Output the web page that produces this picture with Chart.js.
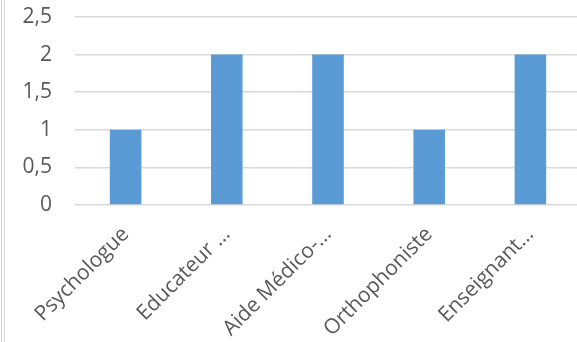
<!DOCTYPE html>
<html>
<head>
<meta charset="utf-8">
<script src="https://cdn.jsdelivr.net/npm/chart.js@4"></script>
<style>
  html, body { margin: 0; padding: 0; background: #fff; overflow: hidden; }
  body { width: 577px; height: 342px; position: relative; }
  .edge { position: absolute; top: 0; bottom: 0; width: 1px; background: #d6d6d6; }
  #wrap { position: absolute; left: 0; top: 0; width: 581px; height: 342px; }
</style>
</head>
<body>
<div class="edge" style="left:1px"></div>
<div class="edge" style="left:4px"></div>
<div id="wrap"><canvas id="chart" width="581" height="342"></canvas></div>
<script>
// Professions and head count for each
const categories = ['Psychologue', 'Educateur …', 'Aide Médico-…', 'Orthophoniste', 'Enseignant…'];
const counts = [1, 2, 2, 1, 2];
const yTicks = [0, 0.5, 1, 1.5, 2, 2.5];

const BAR_COLOR = '#5B9BD5';
const GRID_COLOR = '#d9d9d9';
const TEXT_COLOR = '#595959';
const FONT = { family: '"Open Sans"', size: 21 };

const ctx = document.getElementById('chart').getContext('2d');
new Chart(ctx, {
    type: 'bar',
    data: {
        labels: categories,
        datasets: [{
            data: counts,
            backgroundColor: BAR_COLOR,
            borderWidth: 0,
            categoryPercentage: 1,
            barPercentage: 0.312,
        }],
    },
    options: {
        responsive: false,
        animation: false,
        layout: { padding: { top: 17, left: 0, right: 0, bottom: 0 } },
        plugins: { legend: { display: false }, tooltip: { enabled: false } },
        scales: {
            x: {
                grid: { display: false, drawTicks: false },
                border: { display: false },
                ticks: {
                    autoSkip: false, minRotation: 45, maxRotation: 45,
                    padding: 17, color: TEXT_COLOR, font: FONT,
                },
                afterFit: axis => { axis.height = 137; },
            },
            y: {
                min: 0, max: 2.5,
                afterBuildTicks: axis => { axis.ticks = yTicks.map(v => ({ value: v })); },
                grid: { color: GRID_COLOR, lineWidth: 1.5, drawTicks: false },
                border: { display: false },
                ticks: {
                    padding: 23, color: TEXT_COLOR, font: FONT,
                    callback: v => String(v).replace('.', ','),
                },
                afterFit: axis => {
                    axis.width = 75;
                    // tick padding would otherwise push the plot down
                    axis.paddingTop = 0;
                    axis.paddingBottom = 0;
                },
            },
        },
    },
});
</script>
</body>
</html>
